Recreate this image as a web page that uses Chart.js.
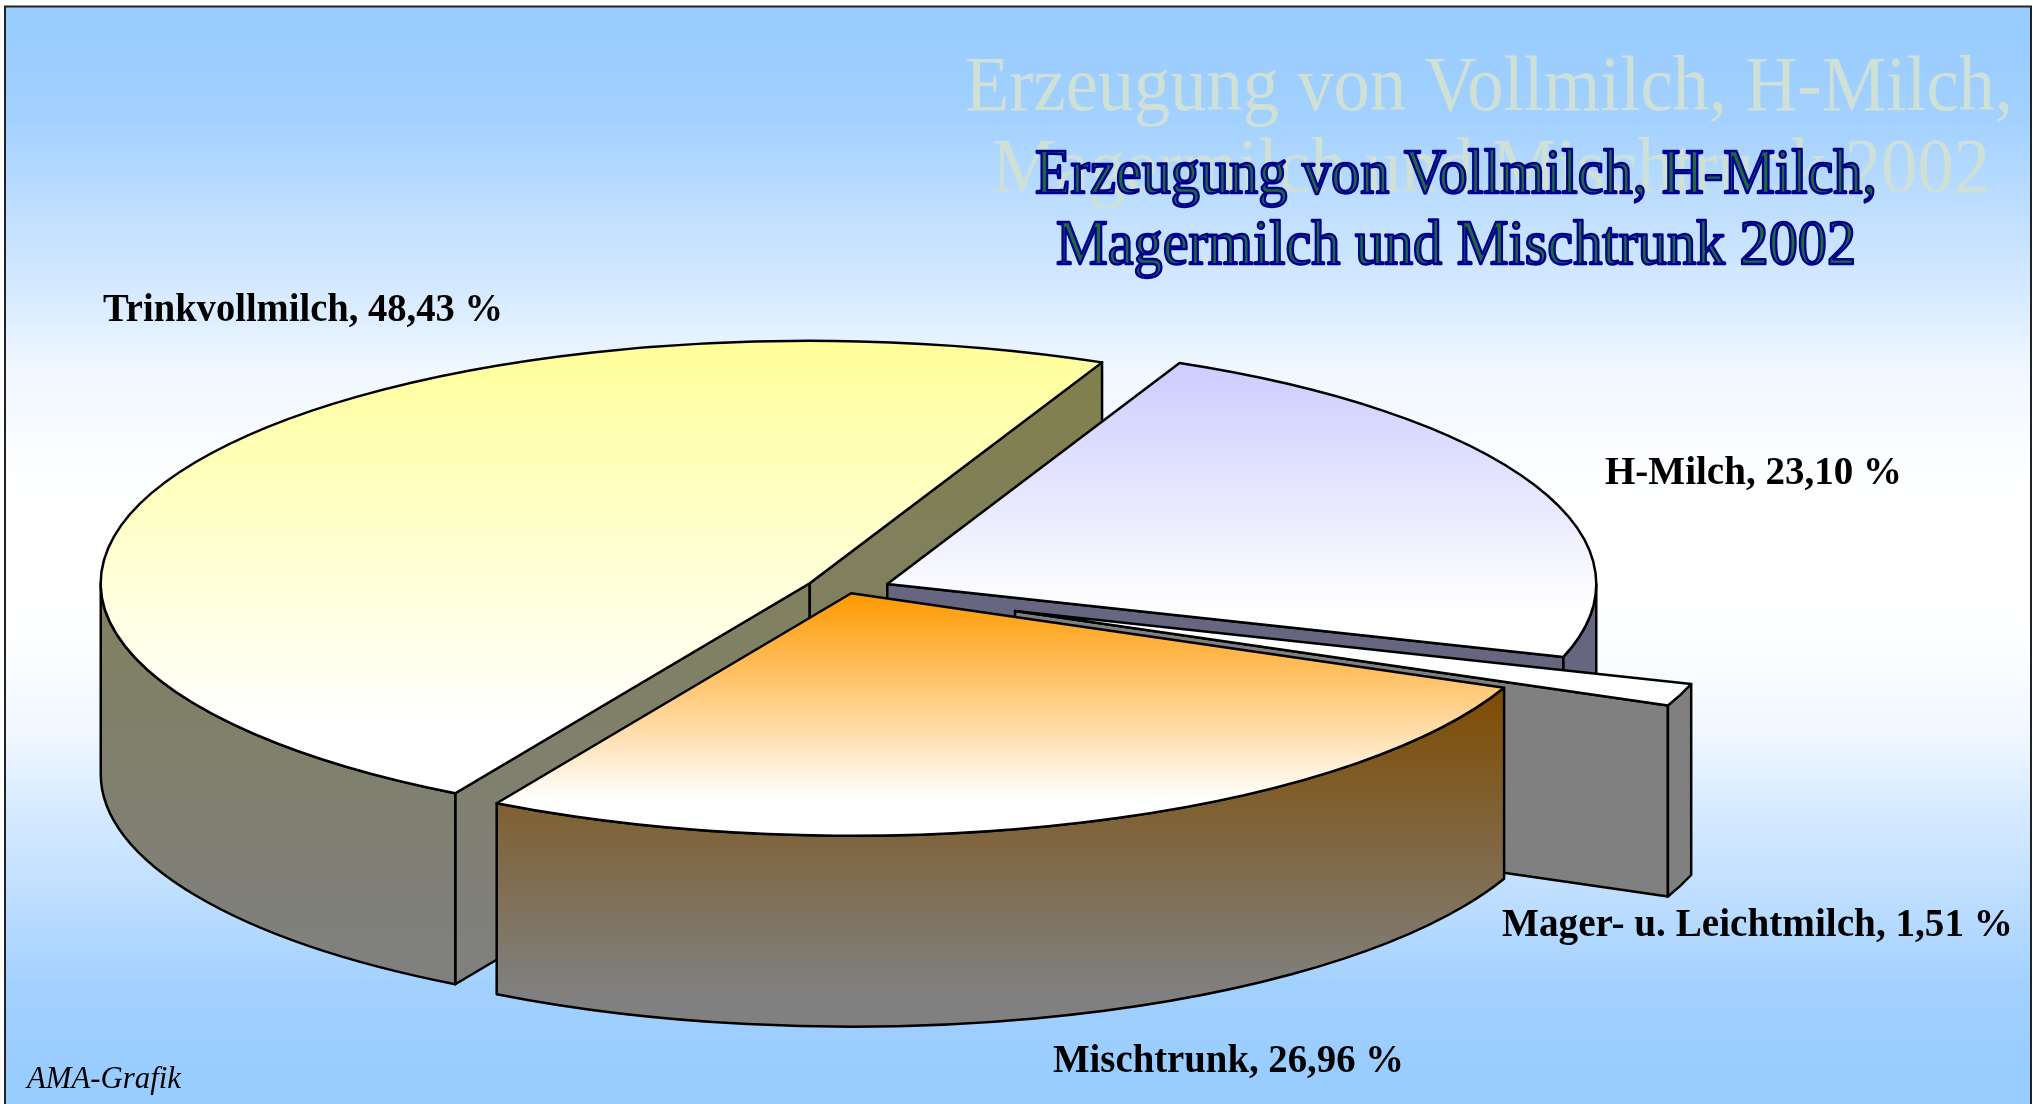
<!DOCTYPE html>
<html>
<head>
<meta charset="utf-8">
<title>Erzeugung von Vollmilch, H-Milch, Magermilch und Mischtrunk 2002</title>
<script src="https://cdn.jsdelivr.net/npm/chart.js@4"></script>
<style>
html, body { margin: 0; padding: 0; background: #fff; overflow: hidden; }
#wrap { width: 2033px; height: 1104px; }
</style>
</head>
<body>
<div id="wrap"><canvas id="chartMilch"></canvas></div>
<script>
// Data
const categories = ['Trinkvollmilch', 'H-Milch', 'Mager- u. Leichtmilch', 'Mischtrunk'];
const shares = [48.43, 23.10, 1.51, 26.96];
const titleLines = ['Erzeugung von Vollmilch, H-Milch,', 'Magermilch und Mischtrunk 2002'];
const sourceNote = 'AMA-Grafik';

// Colours per slice: top surface, wall at its top, wall at its bottom
const topColors = ['#ffff99', '#ccccff', '#ffffff', '#ff9900'];
const wallTopColors = ['#80804c', '#666680', '#808080', '#7f4c00'];
const wallBottomColors = ['#808080', '#666680', '#808080', '#808080'];
const wallFade = [1, 1, 1, 0.9];
const explode = [43, 43, 178, 10];

// Fake 3D settings
const SQUASH = 0.342;
const DEPTH = 191;
const RADIUS = 709;

function sliceGeometry(arc, i) {
    const mid = (arc.startAngle + arc.endAngle) / 2;
    return {
        x: arc.x + Math.cos(mid) * explode[i],
        y: arc.y + Math.sin(mid) * explode[i] * SQUASH,
        r: arc.outerRadius,
        start: arc.startAngle,
        end: arc.endAngle
    };
}

function rimPoint(g, a) {
    return [g.x + g.r * Math.cos(a), g.y + g.r * Math.sin(a) * SQUASH];
}

function verticalGradient(ctx, y0, y1, c0, c1) {
    const grad = ctx.createLinearGradient(0, y0, 0, y1);
    grad.addColorStop(0, c0);
    grad.addColorStop(1, c1);
    return grad;
}

// y range of the slice top surface
function topRange(g) {
    const ys = [g.y, rimPoint(g, g.start)[1], rimPoint(g, g.end)[1]];
    for (let k = -1; k < 6; k++) {
        const a = k * Math.PI / 2;
        if (a > g.start && a < g.end) ys.push(rimPoint(g, a)[1]);
    }
    return [Math.min.apply(null, ys), Math.max.apply(null, ys)];
}

function drawSlice(ctx, arc, i) {
    const g = sliceGeometry(arc, i);
    const range = topRange(g);
    const wallStart = Math.min(rimPoint(g, g.start)[1], rimPoint(g, g.end)[1]);
    const wallEnd = wallStart + (range[1] + DEPTH - wallStart) * wallFade[i];
    const wallFill = verticalGradient(ctx, wallStart, wallEnd, wallTopColors[i], wallBottomColors[i]);

    ctx.strokeStyle = '#000';
    ctx.lineWidth = 2.5;
    ctx.lineJoin = 'round';

    // Cut faces, only the ones turned to the viewer
    const cuts = [];
    if (Math.cos(g.start) < 0) cuts.push(g.start);
    if (Math.cos(g.end) > 0) cuts.push(g.end);
    cuts.forEach(function(a) {
        const p = rimPoint(g, a);
        ctx.beginPath();
        ctx.moveTo(g.x, g.y);
        ctx.lineTo(p[0], p[1]);
        ctx.lineTo(p[0], p[1] + DEPTH);
        ctx.lineTo(g.x, g.y + DEPTH);
        ctx.closePath();
        ctx.fillStyle = wallFill;
        ctx.fill();
        ctx.stroke();
    });

    // Outer wall on the front half of the rim
    for (let k = 0; k < 2; k++) {
        const a0 = Math.max(g.start, k * 2 * Math.PI);
        const a1 = Math.min(g.end, k * 2 * Math.PI + Math.PI);
        if (a1 <= a0) continue;
        ctx.beginPath();
        ctx.ellipse(g.x, g.y, g.r, g.r * SQUASH, 0, a0, a1);
        ctx.ellipse(g.x, g.y + DEPTH, g.r, g.r * SQUASH, 0, a1, a0, true);
        ctx.closePath();
        ctx.fillStyle = wallFill;
        ctx.fill();
        ctx.stroke();
    }

    // Top surface
    ctx.beginPath();
    ctx.moveTo(g.x, g.y);
    ctx.ellipse(g.x, g.y, g.r, g.r * SQUASH, 0, g.start, g.end);
    ctx.closePath();
    ctx.fillStyle = verticalGradient(ctx, range[0], range[0] + (range[1] - range[0]) * 0.85, topColors[i], '#ffffff');
    ctx.fill();
    ctx.stroke();
}

function sliceLabel(i) {
    return categories[i] + ', ' + shares[i].toFixed(2).replace('.', ',') + ' %';
}

const backgroundPlugin = {
    id: 'slideBackground',
    beforeDraw(chart) {
        const ctx = chart.ctx;
        const grad = ctx.createLinearGradient(0, 0, 0, 1104);
        [[30, '#99ccff'], [120, '#a3d1ff'], [200, '#bcddff'], [299, '#d8ebff'], [370, '#f0f7ff'],
         [470, '#fdfeff'], [552, '#ffffff'], [640, '#fdfeff'], [734, '#f0f7ff'], [805, '#d8ebff'],
         [904, '#bcddff'], [984, '#a3d1ff'], [1074, '#99ccff']].forEach(function(s) {
            grad.addColorStop(s[0] / 1104, s[1]);
        });
        ctx.save();
        ctx.fillStyle = '#ffffff';
        ctx.fillRect(0, 0, 2033, 1104);
        ctx.fillStyle = grad;
        ctx.fillRect(5, 6, 2027, 1100);
        ctx.strokeStyle = '#222';
        ctx.lineWidth = 2;
        ctx.strokeRect(5, 6.5, 2026, 1110);

        // Ghost title behind everything
        ctx.fillStyle = '#cfe0d6';
        ctx.textBaseline = 'alphabetic';
        ctx.font = '78px "Liberation Serif"';
        ctx.fillText(titleLines[0], 965, 110, 1048);
        ctx.fillText(titleLines[1], 992, 192, 998);
        ctx.restore();
    }
};

const pie3dPlugin = {
    id: 'pie3d',
    beforeDatasetsDraw(chart) {
        const ctx = chart.ctx;
        ctx.save();
        chart.getDatasetMeta(0).data.forEach(function(arc, i) {
            drawSlice(ctx, arc, i);
        });
        ctx.restore();
        return false;
    }
};

const textPlugin = {
    id: 'slideText',
    afterDraw(chart) {
        const ctx = chart.ctx;
        ctx.save();
        ctx.textBaseline = 'alphabetic';

        // Main title
        ctx.font = '63px "Liberation Serif"';
        ctx.lineJoin = 'round';
        ctx.lineWidth = 2.5;
        ctx.strokeStyle = '#000090';
        ctx.fillStyle = '#1f6a3a';
        [[1035, 193, 842], [1056, 264, 800]].forEach(function(p, n) {
            ctx.fillText(titleLines[n], p[0], p[1], p[2]);
            ctx.strokeText(titleLines[n], p[0], p[1], p[2]);
        });

        // Slice labels
        ctx.fillStyle = '#000';
        ctx.font = 'bold 40.4px "Liberation Serif"';
        [[103, 321, 400], [1605, 484, 297], [1502, 936, 511], [1053, 1072, 351]].forEach(function(p, i) {
            ctx.fillText(sliceLabel(i), p[0], p[1], p[2]);
        });

        ctx.font = 'italic 32px "Liberation Serif"';
        ctx.fillText(sourceNote, 27, 1088, 154);
        ctx.restore();
    }
};

document.addEventListener('DOMContentLoaded', function() {
    new Chart(document.getElementById('chartMilch').getContext('2d'), {
        type: 'pie',
        data: {
            labels: categories,
            datasets: [{
                data: shares,
                backgroundColor: topColors,
                borderColor: '#000',
                borderWidth: 2,
                radius: RADIUS,
                rotation: 210
            }]
        },
        options: {
            responsive: true,
            maintainAspectRatio: false,
            animation: false,
            layout: { padding: { top: 76, right: 337 } },
            plugins: { legend: { display: false }, tooltip: { enabled: false } }
        },
        plugins: [backgroundPlugin, pie3dPlugin, textPlugin]
    });
});
</script>
</body>
</html>
